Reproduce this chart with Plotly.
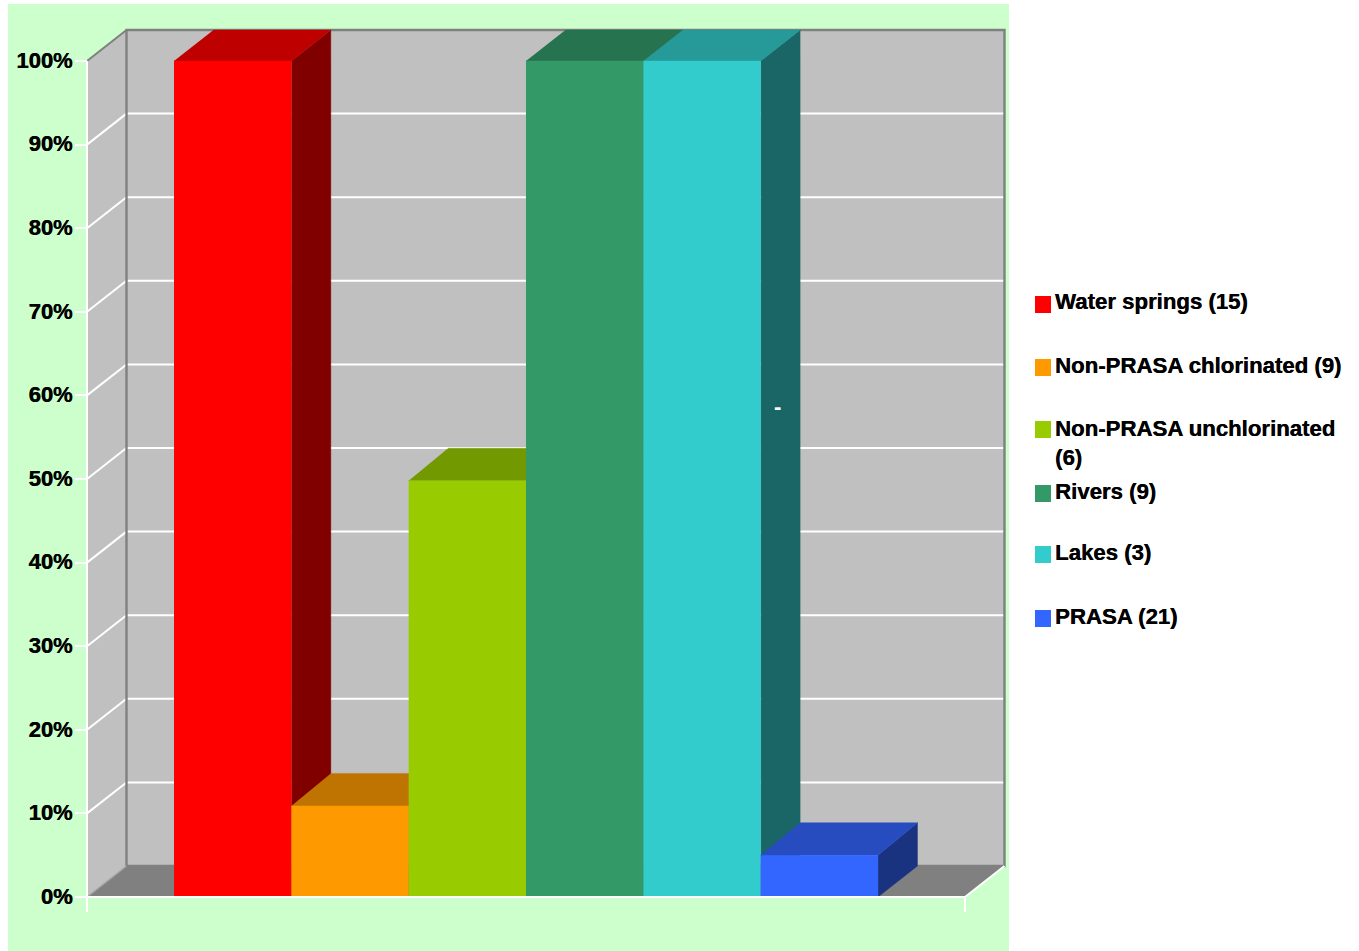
import plotly.graph_objects as go

# Share of samples per water source (sample count shown in the legend)
sources = ["Water springs (15)", "Non-PRASA chlorinated (9)", "Non-PRASA unchlorinated<br>(6)",
           "Rivers (9)", "Lakes (3)", "PRASA (21)"]
percent = [100, 10.9, 49.8, 100, 100, 5]
front_colors = ["#ff0000", "#ff9900", "#99cc00", "#339966", "#33cccc", "#3366ff"]
top_colors = ["#bf0000", "#bf7300", "#739900", "#267350", "#269999", "#264cbf"]
side_colors = ["#800000", "#804d00", "#4d6600", "#1a4d33", "#1a6666", "#1a3380"]
tick_values = [0, 10, 20, 30, 40, 50, 60, 70, 80, 90, 100]
tick_labels = ["0%", "10%", "20%", "30%", "40%", "50%", "60%", "70%", "80%", "90%", "100%"]
legend_text_rows = [301, 365, 442.5, 491, 552, 616]
legend_swatch_tops = [296, 359, 421, 485, 546, 610]

W, H = 1359, 951
FONT = "Liberation Sans"

# Pixel frame of the chart: panel, front plane and scale of the two axes
PANEL = (8, 1009, 4, 951)
X0_PX, Y0_PX = 87, 897
BAR_PX = 117.33
PCT_PX = 8.36
GAP = 87 / BAR_PX
DEPTH_X = 39.5 / BAR_PX
DEPTH_Y = 31 / PCT_PX
BAR_DEPTH_Y = 32.5 / PCT_PX
X_END = 2 * GAP + len(percent)


def poly(xs, ys, color, name):
    return go.Scatter(x=xs, y=ys, mode="lines", fill="toself", fillcolor=color,
                      line=dict(color=color, width=0.4), name=name,
                      hoverinfo="name", showlegend=False)


def stroke(xs, ys, color, width):
    return go.Scatter(x=xs, y=ys, mode="lines", line=dict(color=color, width=width),
                      hoverinfo="skip", showlegend=False)


fig = go.Figure()

# Walls and floor of the box
fig.add_trace(poly([DEPTH_X, X_END + DEPTH_X, X_END + DEPTH_X, DEPTH_X],
                   [DEPTH_Y, DEPTH_Y, 100 + DEPTH_Y, 100 + DEPTH_Y], "#c0c0c0", "Back wall"))
fig.add_trace(poly([0, DEPTH_X, DEPTH_X, 0],
                   [0, DEPTH_Y, 100 + DEPTH_Y, 100], "#c0c0c0", "Side wall"))
fig.add_trace(poly([0, X_END, X_END + DEPTH_X, DEPTH_X],
                   [0, 0, DEPTH_Y, DEPTH_Y], "#808080", "Floor"))

# Gridlines run along the side wall and then across the back wall
for v in tick_values[1:-1]:
    fig.add_trace(stroke([0, DEPTH_X, X_END + DEPTH_X],
                         [v, v + DEPTH_Y, v + DEPTH_Y], "#ffffff", 2))

# Box outline
fig.add_trace(stroke([DEPTH_X, DEPTH_X, X_END + DEPTH_X, X_END + DEPTH_X, DEPTH_X],
                     [DEPTH_Y, 100 + DEPTH_Y, 100 + DEPTH_Y, DEPTH_Y, DEPTH_Y], "#808080", 2.4))
fig.add_trace(stroke([0, DEPTH_X], [100, 100 + DEPTH_Y], "#808080", 2))
fig.add_trace(stroke([0, DEPTH_X], [0, DEPTH_Y], "#a6a6a6", 1.5))
fig.add_trace(stroke([X_END, X_END + DEPTH_X], [0, DEPTH_Y], "#ffffff", 2))

# Bars, painted left to right so each one hides its neighbour's side face
for i, (label, value) in enumerate(zip(sources, percent)):
    name = label.replace("<br>", " ")
    x1, x2 = GAP + i, GAP + i + 1
    back = min(value + BAR_DEPTH_Y, 100 + DEPTH_Y)
    fig.add_trace(poly([x2, x2 + DEPTH_X, x2 + DEPTH_X, x2],
                       [0, DEPTH_Y, back, value], side_colors[i], name))
    fig.add_trace(poly([x1, x2, x2 + DEPTH_X, x1 + DEPTH_X],
                       [value, value, back, back], top_colors[i], name))
    fig.add_trace(poly([x1, x2, x2, x1], [0, 0, value, value], front_colors[i], name))

# Front edges of the box
fig.add_trace(stroke([0, 0, X_END], [100, 0, 0], "#ffffff", 2))

fig.update_layout(
    width=W, height=H, margin=dict(l=0, r=0, t=0, b=0),
    paper_bgcolor="#ffffff", plot_bgcolor="#ccffcc", showlegend=False,
    xaxis=dict(
        domain=[PANEL[0] / W, PANEL[1] / W],
        range=[(PANEL[0] - X0_PX) / BAR_PX, (PANEL[1] - X0_PX) / BAR_PX],
        anchor="free", position=(H - Y0_PX) / H,
        tickmode="array", tickvals=[0, X_END], ticks="outside", ticklen=14, tickwidth=2,
        tickcolor="#ffffff", showticklabels=False, showgrid=False, zeroline=False, showline=False,
    ),
    yaxis=dict(
        domain=[(H - PANEL[3]) / H, (H - PANEL[2]) / H],
        range=[(Y0_PX - PANEL[3]) / PCT_PX, (Y0_PX - PANEL[2]) / PCT_PX],
        anchor="free", position=X0_PX / W,
        tickmode="array", tickvals=tick_values, ticktext=tick_labels,
        ticks="outside", ticklen=12, tickwidth=2, tickcolor="#ffffff",
        ticklabelstandoff=-2, ticklabelshift=-1,
        tickfont=dict(family=FONT, size=22, color="#000000", weight=700, shadow="0.35px 0 0 #000000"),
        showgrid=False, zeroline=False, showline=False,
    ),
)

# Legend column: colour swatch followed by its label
for label, row, top, color in zip(sources, legend_text_rows, legend_swatch_tops, front_colors):
    fig.add_shape(type="rect", xref="paper", yref="paper", line_width=0, fillcolor=color,
                  x0=1035 / W, x1=1051 / W, y0=1 - (top + 17) / H, y1=1 - top / H)
    fig.add_annotation(text=label, xref="paper", yref="paper", x=1053 / W, y=1 - row / H,
                       xanchor="left", yanchor="middle", align="left", showarrow=False,
                       font=dict(family=FONT, size=22.2, color="#000000", weight=700,
                                 shadow="0.35px 0 0 #000000"))

# Stray data label on the lakes bar's side face
fig.add_annotation(text="-", x=GAP + 5 + (DEPTH_X * BAR_PX / 2 - 3) / BAR_PX,
                   y=(Y0_PX - 406) / PCT_PX, showarrow=False,
                   font=dict(family=FONT, size=22, color="#ffffff", weight=700))

fig.write_html("out.html", config=dict(displayModeBar=False))
